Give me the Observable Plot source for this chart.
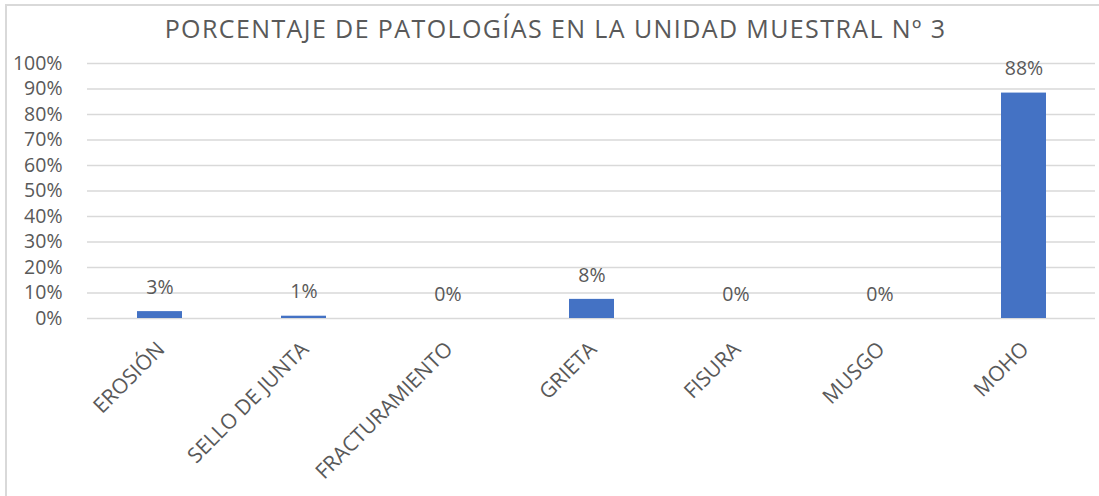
<!DOCTYPE html>
<html><head><meta charset="utf-8">
<script src="https://cdn.jsdelivr.net/npm/d3@7"></script>
<script src="https://cdn.jsdelivr.net/npm/@observablehq/plot@0.6"></script>
<style>
body{margin:0;background:#fff;}
#wrap{position:relative;width:1099px;height:496px;overflow:hidden;font-family:"Open Sans",sans-serif;}
#frame{position:absolute;left:5px;top:4px;width:1200px;height:600px;border:2px solid #d9d9d9;box-sizing:border-box;pointer-events:none;}
#title{height:45px;line-height:56px;text-align:center;padding-left:12px;font-size:25px;letter-spacing:1.4px;color:#595959;white-space:nowrap;}
svg{display:block;}
</style>
</head><body>
<div id="wrap">
<div id="frame"></div>
<div id="title">PORCENTAJE DE PATOLOGÍAS EN LA UNIDAD MUESTRAL Nº 3</div>
<div id="chart"></div>
</div>
<script>
const categories = ["EROSIÓN","SELLO DE JUNTA","FRACTURAMIENTO","GRIETA","FISURA","MUSGO","MOHO"];
const values = [0.027, 0.009, 0, 0.075, 0, 0, 0.884];
const yTicks = [0,0.1,0.2,0.3,0.4,0.5,0.6,0.7,0.8,0.9,1];

const data = categories.map((c,i)=>({cat:c, value:values[i]}));
const fmt = d3.format(".0%");
const ink = "#595959";

const chart = Plot.plot({
  width:1099, height:451,
  marginLeft:87, marginRight:4, marginTop:18, marginBottom:178,
  style:{fontFamily:"'Open Sans', sans-serif", background:"transparent"},
  x:{domain:categories, paddingInner:0.69, paddingOuter:0.345, axis:null},
  y:{domain:[0,1], axis:null},
  marks:[
    Plot.gridY(yTicks,{stroke:"#d9d9d9", strokeOpacity:1, strokeWidth:1.3}),
    Plot.axisY(yTicks,{tickFormat:fmt, tickSize:0, tickPadding:25, fontSize:19.5, fill:ink, label:null}),
    Plot.barY(data,{x:"cat", y:"value", fill:"#4472c4"}),
    Plot.text(data,{x:"cat", y:"value", text:d=>fmt(d.value), dy:-24, fontSize:19.5, fill:ink}),
    Plot.text(data,{x:"cat", frameAnchor:"bottom", text:"cat", rotate:-45, textAnchor:"end", dx:6, dy:32, fontSize:21, fill:ink})
  ]
});
document.getElementById("chart").appendChild(chart);
</script>
</body></html>
